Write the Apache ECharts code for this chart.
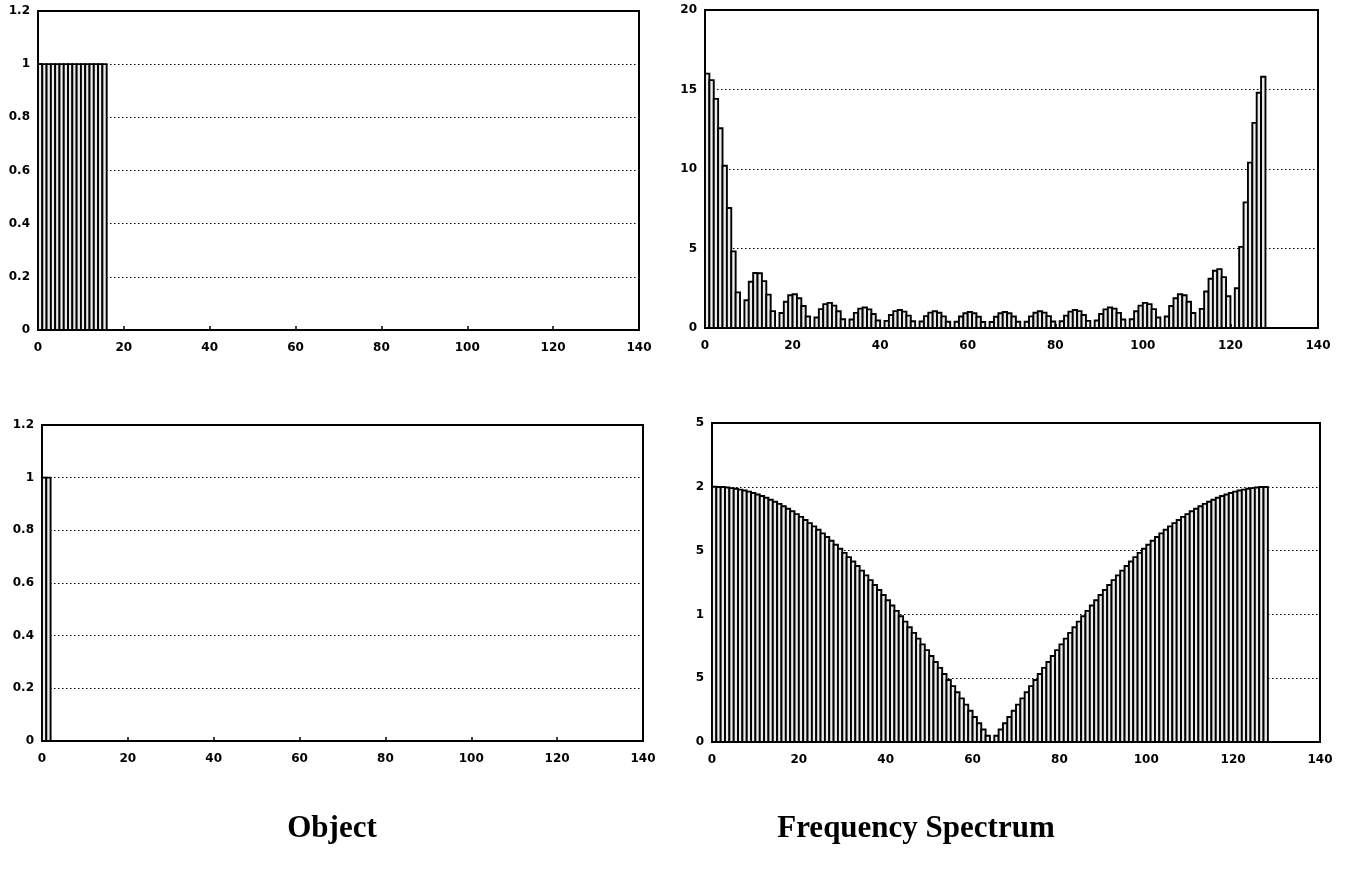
<!DOCTYPE html>
<html>
<head>
<meta charset="utf-8">
<style>html,body{margin:0;padding:0;background:#fff}#c{width:1351px;height:874px}</style>
<script src="https://cdn.jsdelivr.net/npm/echarts@6/dist/echarts.min.js"></script>
</head>
<body>
<div id="c"></div>
<script>
// ---- data ----
var X_TICKS = [0, 20, 40, 60, 80, 100, 120, 140];

// Object 1 (top-left): rectangle of 16 samples
var object1 = [1,1,1,1,1,1,1,1,1,1,1,1,1,1,1,1];

// Spectrum 1 (top-right): 128 samples
var spectrum1 = [
  16.0,15.59,14.41,12.56,10.20,7.55,4.82,2.24,0,1.75,2.91,3.46,3.44,2.95,2.10,1.06,
  0,0.94,1.65,2.06,2.12,1.87,1.38,0.72,0,0.66,1.19,1.50,1.58,1.41,1.05,0.55,
  0,0.53,0.95,1.22,1.29,1.17,0.88,0.47,0,0.45,0.82,1.06,1.13,1.03,0.78,0.42,
  0,0.41,0.75,0.97,1.05,0.96,0.73,0.39,0,0.39,0.72,0.93,1.01,0.93,0.71,0.38,
  0,0.38,0.71,0.93,1.01,0.93,0.72,0.39,0,0.39,0.73,0.96,1.05,0.97,0.75,0.41,
  0,0.42,0.78,1.03,1.13,1.06,0.82,0.45,0,0.47,0.88,1.17,1.29,1.22,0.95,0.53,
  0,0.55,1.05,1.41,1.58,1.50,1.19,0.66,0,0.72,1.38,1.87,2.12,2.06,1.65,0.94,
  0,1.2,2.3,3.1,3.6,3.7,3.2,2.0,0,2.5,5.1,7.9,10.4,12.9,14.8,15.8
];

// Object 2 (bottom-left): two unit impulses
var object2 = [1, 1];

// Spectrum 2 (bottom-right): 128 samples
var spectrum2 = [
  2.000,1.999,1.998,1.995,1.990,1.985,1.978,1.971,1.962,1.951,1.940,1.928,1.914,1.899,1.883,1.866,
  1.848,1.828,1.808,1.786,1.764,1.740,1.715,1.690,1.663,1.635,1.606,1.577,1.546,1.514,1.482,1.449,
  1.414,1.379,1.343,1.306,1.269,1.230,1.191,1.152,1.111,1.070,1.028,0.986,0.943,0.899,0.855,0.810,
  0.765,0.720,0.674,0.627,0.581,0.533,0.486,0.438,0.390,0.342,0.293,0.245,0.196,0.147,0.098,0.049,
  0,0.049,0.098,0.147,0.196,0.245,0.293,0.342,0.390,0.438,0.486,0.533,0.581,0.627,0.674,0.720,
  0.765,0.810,0.855,0.899,0.943,0.986,1.028,1.070,1.111,1.152,1.191,1.230,1.269,1.306,1.343,1.379,
  1.414,1.449,1.482,1.514,1.546,1.577,1.606,1.635,1.663,1.690,1.715,1.740,1.764,1.786,1.808,1.828,
  1.848,1.866,1.883,1.899,1.914,1.928,1.940,1.951,1.962,1.971,1.978,1.985,1.990,1.995,1.998,1.999
];

// tick labels as they appear in the picture
var Y_LABELS_OBJ = {0:'0', 0.2:'0.2', 0.4:'0.4', 0.6:'0.6', 0.8:'0.8', 1:'1', 1.2:'1.2'};
var Y_LABELS_SPEC1 = {0:'0', 5:'5', 10:'10', 15:'15', 20:'20'};
var Y_LABELS_SPEC2 = {0:'0', 0.5:'5', 1:'1', 1.5:'5', 2:'2', 2.5:'5'};
var TITLES = ['Object', 'Frequency Spectrum'];

// ---- chart ----
function toPairs(arr){ return arr.map(function(v,i){ return [i, v]; }); }
function lookup(map){ return function(v){ var k = Math.round(v*1000)/1000; return map[k] !== undefined ? map[k] : ''; }; }

var FONT = '"DejaVu Sans", sans-serif';
var grids = [
  {left: 38,  top: 11,  width: 601, height: 319},
  {left: 705, top: 10,  width: 613, height: 318},
  {left: 42,  top: 425, width: 601, height: 316},
  {left: 712, top: 423, width: 608, height: 319}
];
var yCfg = [
  {max: 1.2, interval: 0.2, map: Y_LABELS_OBJ},
  {max: 20,  interval: 5,   map: Y_LABELS_SPEC1},
  {max: 1.2, interval: 0.2, map: Y_LABELS_OBJ},
  {max: 2.5, interval: 0.5, map: Y_LABELS_SPEC2}
];
var datasets = [object1, spectrum1, object2, spectrum2];

var option = {
  backgroundColor: '#fff',
  animation: false,
  grid: grids.map(function(g){ return Object.assign({show: true, borderColor: '#000', borderWidth: 2, backgroundColor: 'transparent', containLabel: false}, g); }),
  xAxis: grids.map(function(g, i){ return {
    type: 'value', gridIndex: i, min: 0, max: 140, interval: 20,
    axisLine: {show: true, onZero: false, lineStyle: {color: '#000', width: 2}},
    axisTick: {show: true, inside: true, length: 4, lineStyle: {color: '#000', width: 1.5}},
    axisLabel: {color: '#000', fontFamily: FONT, fontWeight: 'bold', fontSize: 12, margin: 12,
      formatter: function(v){ return X_TICKS.indexOf(v) >= 0 ? String(v) : ''; }},
    splitLine: {show: false}
  }; }),
  yAxis: grids.map(function(g, i){ return {
    type: 'value', gridIndex: i, min: 0, max: yCfg[i].max, interval: yCfg[i].interval,
    axisLine: {show: true, onZero: false, lineStyle: {color: '#000', width: 2}},
    axisTick: {show: true, inside: true, length: 4, lineStyle: {color: '#000', width: 1.5}},
    axisLabel: {color: '#000', fontFamily: FONT, fontWeight: 'bold', fontSize: 12, margin: 8,
      formatter: lookup(yCfg[i].map)},
    splitLine: {show: true, lineStyle: {color: '#000', width: 1.2, type: [1.5, 2.5]}}
  }; }),
  series: datasets.map(function(arr, i){ return {
    type: 'custom', xAxisIndex: i, yAxisIndex: i,
    data: toPairs(arr),
    encode: {x: 0, y: 1},
    renderItem: function(params, api){
      var k = api.value(0), v = api.value(1);
      if (!v) return null;
      var p0 = api.coord([k, 0]);
      var p1 = api.coord([k + 1, v]);
      return {
        type: 'rect',
        shape: {x: p0[0], y: p1[1], width: p1[0] - p0[0], height: p0[1] - p1[1]},
        style: {fill: '#ebebeb', stroke: '#000', lineWidth: 1.9}
      };
    }
  }; }),
  graphic: [
    {type: 'text', x: 332, y: 829, style: {text: TITLES[0], fill: '#000', font: 'bold 31px "Liberation Serif", serif', align: 'center', verticalAlign: 'middle'}},
    {type: 'text', x: 916, y: 829, style: {text: TITLES[1], fill: '#000', font: 'bold 31px "Liberation Serif", serif', align: 'center', verticalAlign: 'middle'}}
  ]
};

var chart = echarts.init(document.getElementById('c'), null, {renderer: 'canvas'});
chart.setOption(option);
</script>
</body>
</html>
